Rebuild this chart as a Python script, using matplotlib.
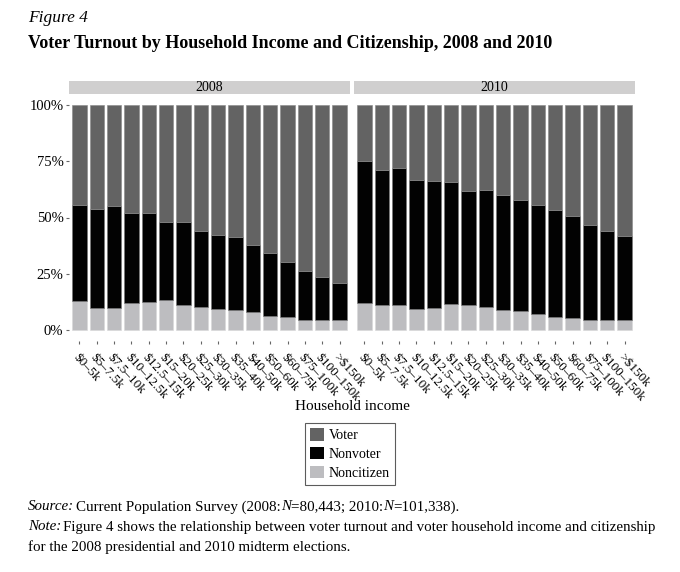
import matplotlib.pyplot as plt
from matplotlib.patches import Patch, Rectangle
import numpy as np

# data (percent of each income group)
income = ["$0–5k", "$5–7.5k", "$7.5–10k", "$10–12.5k", "$12.5–15k", "$15–20k",
          "$20–25k", "$25–30k", "$30–35k", "$35–40k", "$40–50k", "$50–60k",
          "$60–75k", "$75–100k", "$100–150k", ">$150k"]
years = ["2008", "2010"]

noncitizen_2008 = [12.9, 9.8, 9.8, 12.0, 12.2, 13.4, 11.0, 10.1, 9.2, 8.7, 8.1, 6.2, 5.7, 4.5, 4.4, 4.4]
nonvoter_2008 = [42.5, 43.9, 45.4, 40.1, 39.6, 34.8, 36.8, 34.0, 33.0, 32.5, 29.6, 28.1, 24.5, 21.8, 19.2, 16.5]

noncitizen_2010 = [12.0, 11.1, 11.2, 9.3, 9.6, 11.5, 10.9, 10.0, 9.0, 8.3, 7.0, 5.8, 5.4, 4.3, 4.2, 4.2]
nonvoter_2010 = [63.1, 60.2, 61.0, 57.4, 56.8, 54.5, 51.1, 52.3, 50.8, 49.3, 48.4, 47.7, 45.2, 42.3, 39.6, 37.4]

groups = ["Voter", "Nonvoter", "Noncitizen"]
colors = {"Voter": "#636363", "Nonvoter": "#020202", "Noncitizen": "#bdbdc0"}

plt.rcParams['font.family'] = ['Liberation Serif', 'DejaVu Serif']

W, H = 680, 572
fig = plt.figure(figsize=(W / 100, H / 100), dpi=100)


def fx(px):
    return px / W


def fy(py):
    return 1 - py / H


panels = [(69, 350, noncitizen_2008, nonvoter_2008), (354, 635, noncitizen_2010, nonvoter_2010)]
x = np.arange(len(income))
for i, (left, right, nc, nv) in enumerate(panels):
    ax = fig.add_axes([fx(left), fy(341), fx(right - left), fy(94) - fy(341)])
    nc = np.array(nc)
    nv = np.array(nv)
    vo = 100 - nc - nv
    ax.bar(x, nc, width=0.82, color=colors["Noncitizen"], edgecolor="#d8d8d8", linewidth=0.4)
    ax.bar(x, nv, bottom=nc, width=0.82, color=colors["Nonvoter"], edgecolor="#777777", linewidth=0.4)
    ax.bar(x, vo, bottom=nc + nv, width=0.82, color=colors["Voter"], edgecolor="#888888", linewidth=0.4)
    ax.set_xlim(-0.6, len(income) - 0.4)
    ax.set_ylim(-5, 105)
    for s in ax.spines.values():
        s.set_visible(False)
    ax.set_xticks(x)
    ax.set_xticklabels(income, rotation=-48, ha="left", va="top", rotation_mode="anchor", fontsize=9.5)
    ax.tick_params(axis="x", length=2.5, color="#666666", pad=5)
    if i == 0:
        ax.set_yticks([0, 25, 50, 75, 100])
        ax.set_yticklabels(["0%", "25%", "50%", "75%", "100%"], fontsize=10.5)
        ax.tick_params(axis="y", length=2.5, color="#666666", pad=1.5)
    else:
        ax.set_yticks([])
    # strip
    fig.patches.append(Rectangle((fx(left), fy(94)), fx(right - left), fy(81) - fy(94),
                                 transform=fig.transFigure, facecolor="#d0cfcf", edgecolor="none"))
    fig.text(fx((left + right) / 2), fy(87.5), years[i], ha="center", va="center", fontsize=10)

fig.text(fx(352), fy(406), "Household income", ha="center", va="center", fontsize=11)

handles = [Patch(facecolor=colors[g], edgecolor="none", label=g) for g in groups]
leg = fig.legend(handles=handles, loc="center", bbox_to_anchor=(fx(350), fy(454)), fontsize=10,
                 frameon=True, fancybox=False, edgecolor="#333333", handlelength=1.0, handleheight=1.0,
                 handletextpad=0.3, labelspacing=0.35, borderpad=0.4)
leg.get_frame().set_linewidth(0.8)

fig.text(fx(28), fy(18), "Figure 4", fontsize=12.5, style="italic", va="center")
fig.text(fx(28), fy(43), "Voter Turnout by Household Income and Citizenship, 2008 and 2010",
         fontsize=13, weight="bold", va="center")

renderer = fig.canvas.get_renderer()


def rich_line(px, py, parts, size=10.8):
    xpos = px
    for txt, st, gap in parts:
        t = fig.text(fx(xpos + gap), fy(py), txt, fontsize=size, style=st, va="center")
        bb = t.get_window_extent(renderer=renderer)
        xpos = bb.x1


rich_line(28, 507, [("Source:", "italic", 0), ("Current Population Survey (2008:", "normal", 2), ("N", "italic", 0),
                    ("=80,443; 2010:", "normal", 0), ("N", "italic", 0), ("=101,338).", "normal", 0)])
rich_line(28, 527, [("Note:", "italic", 0),
                    ("Figure 4 shows the relationship between voter turnout and voter household income and citizenship",
                     "normal", 2)])
rich_line(28, 547, [("for the 2008 presidential and 2010 midterm elections.", "normal", 0)])

fig.savefig("out.png", dpi=100)
